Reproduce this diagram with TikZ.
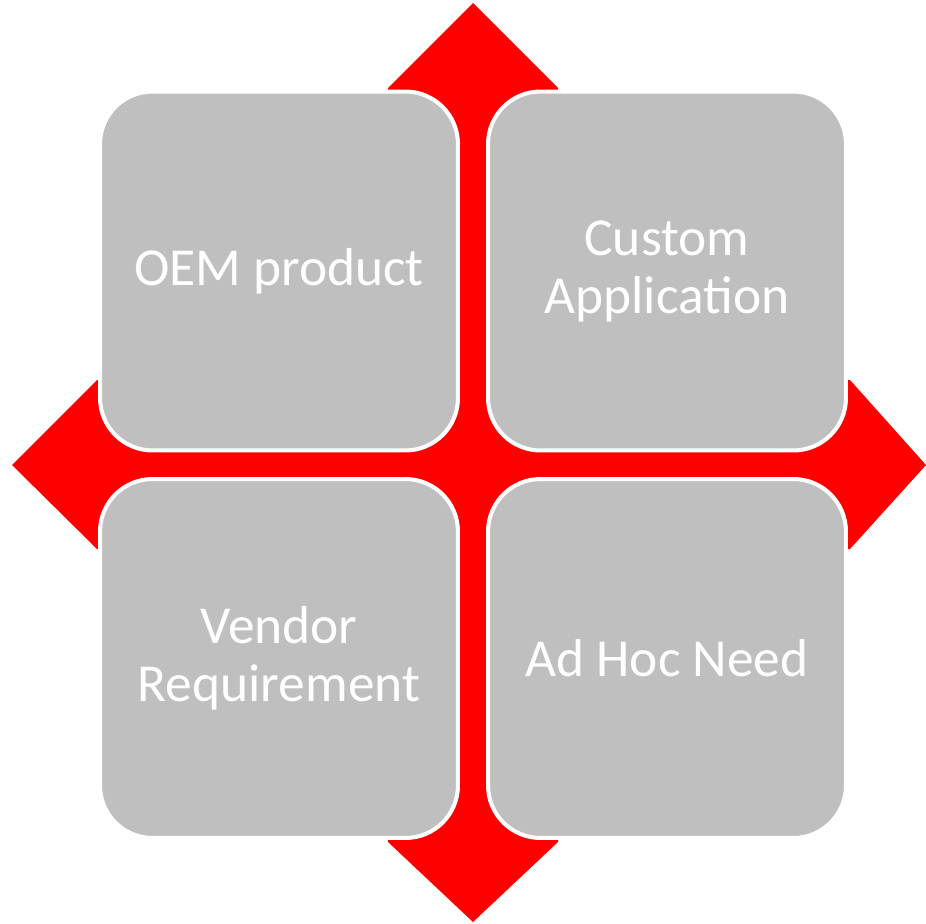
\documentclass[tikz,border=0pt]{standalone}
\usepackage{fontspec}
\setmainfont{Carlito}

\begin{document}
\begin{tikzpicture}[x=0.02cm, y=-0.02cm,
    quadbox/.style={draw=white, line width=2.3pt, fill=boxgray,
      rounded corners=1.05cm, minimum width=7.16cm, minimum height=7.18cm,
      text=white, align=center,
      font=\fontsize{30.4}{33}\selectfont}]
  \definecolor{boxgray}{RGB}{191,191,191}
  \definecolor{arrowred}{RGB}{255,0,0}

  % Page frame
  \fill[white] (0,0) rectangle (926,923);
  \useasboundingbox (0,0) rectangle (926,923);

  % Draw four-way arrow
  \fill[arrowred] (473,3) -- (558,88) -- (558,380)
    -- (850,380) -- (926,465) -- (850,549)
    -- (558,549) -- (558,842) -- (473,922) -- (388,842)
    -- (388,549) -- (97,549) -- (12,465)
    -- (97,380) -- (388,380) -- (388,88) -- cycle;

  % Draw the four boxes
  \node[quadbox] (oem) at (279,271) {OEM product};
  \node[quadbox] (custom) at (667,271) {Custom\\Application};
  \node[quadbox] (vendor) at (279,658.5) {Vendor\\Requirement};
  \node[quadbox] (adhoc) at (667,658.5) {Ad Hoc Need};
\end{tikzpicture}
\end{document}
